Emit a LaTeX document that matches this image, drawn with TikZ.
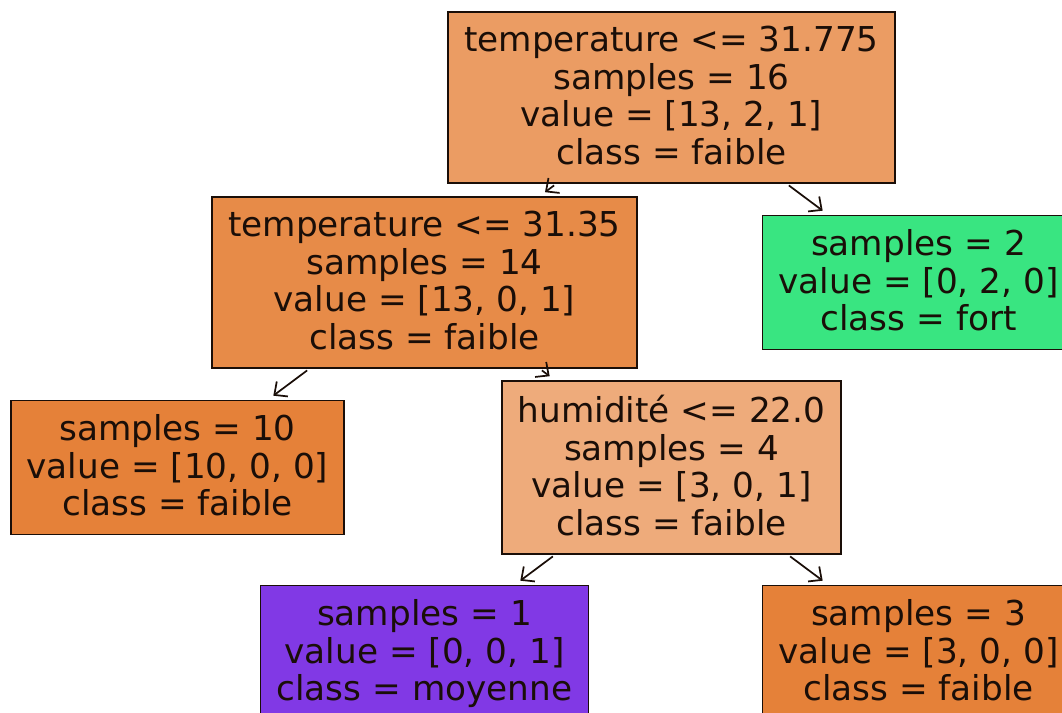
\documentclass[tikz,border=0pt]{standalone}
\usepackage{fontspec}
\setmainfont{DejaVu Sans}
\usepackage{tikz}
\usepackage{xcolor}
\usetikzlibrary{arrows.meta,positioning}
\definecolor{FaibleRoot}{HTML}{EB9C63}
\definecolor{FaibleMid}{HTML}{E78B48}
\definecolor{FaibleLight}{HTML}{EEAB7B}
\definecolor{FaibleFull}{HTML}{E58139}
\definecolor{FortFull}{HTML}{39E581}
\definecolor{MoyFull}{HTML}{8139E5}
\definecolor{TreeInk}{HTML}{1A0E08}

\begin{document}
\begin{tikzpicture}[
  x=185.25pt, y=138.75pt,
  node distance=138.75pt and 185.25pt, on grid,
  treenode/.style={draw=TreeInk,line width=1.3pt,align=center,text=TreeInk,inner xsep=12pt,inner ysep=10.5pt,text depth=3.5pt,font=\fontsize{25.7pt}{28.2pt}\selectfont},
  arrow/.style={-{Straight Barb[length=7.5pt,width=14pt]},line width=1.3pt,draw=TreeInk,shorten <=2pt,shorten >=5pt}
]
\useasboundingbox (-0.7186,0.527) rectangle (3.581,-3.327);
\node[treenode,fill=FaibleRoot] (root) at (2,0) {temperature <= 31.775\\samples = 16\\value = [13, 2, 1]\\class = faible};
\node[treenode,fill=FaibleMid,below left=of root] (tempB) {temperature <= 31.35\\samples = 14\\value = [13, 0, 1]\\class = faible};
\node[treenode,fill=FortFull,below right=of root] (fort) {samples = 2\\value = [0, 2, 0]\\class = fort};
\node[treenode,fill=FaibleFull,below left=of tempB] (faibleA) {samples = 10\\value = [10, 0, 0]\\class = faible};
\node[treenode,fill=FaibleLight,below right=of tempB] (humid) {humidité <= 22.0\\samples = 4\\value = [3, 0, 1]\\class = faible};
\node[treenode,fill=MoyFull,below left=of humid] (moy) {samples = 1\\value = [0, 0, 1]\\class = moyenne};
\node[treenode,fill=FaibleFull,below right=of humid] (faibleB) {samples = 3\\value = [3, 0, 0]\\class = faible};
\draw[arrow] (root) -- (tempB);
\draw[arrow] (root) -- (fort);
\draw[arrow] (tempB) -- (faibleA);
\draw[arrow] (tempB) -- (humid);
\draw[arrow] (humid) -- (moy);
\draw[arrow] (humid) -- (faibleB);
\end{tikzpicture}
\end{document}
